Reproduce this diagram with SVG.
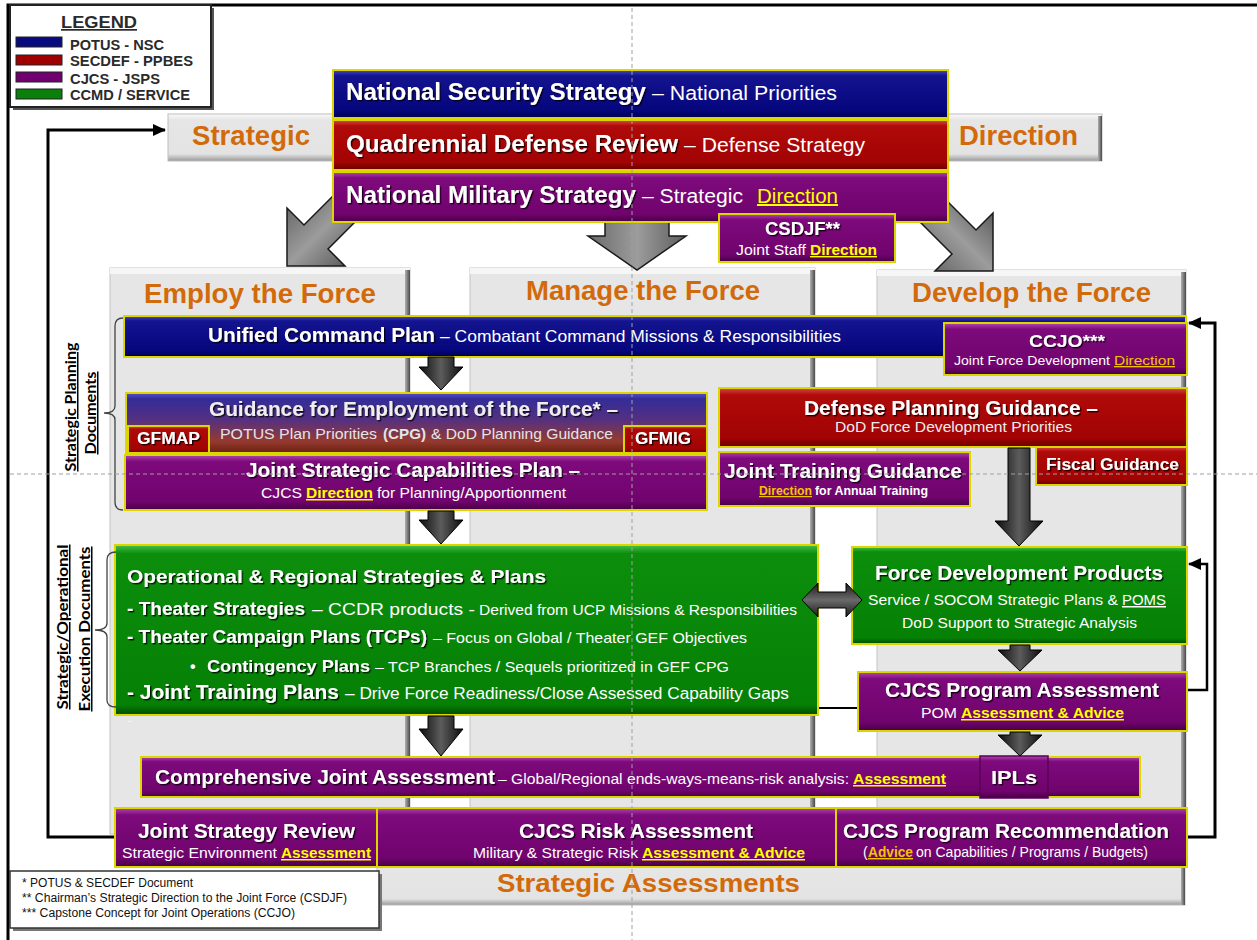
<svg xmlns="http://www.w3.org/2000/svg" width="1257" height="940" viewBox="0 0 1257 940">
<defs>
<linearGradient id="gB" x1="0" y1="0" x2="0" y2="1"><stop offset="0" stop-color="#4848c0"/><stop offset="0.12" stop-color="#141490"/><stop offset="0.85" stop-color="#05057c"/><stop offset="1" stop-color="#000050"/></linearGradient>
<linearGradient id="gR" x1="0" y1="0" x2="0" y2="1"><stop offset="0" stop-color="#d84848"/><stop offset="0.12" stop-color="#b00a0a"/><stop offset="0.85" stop-color="#a20303"/><stop offset="1" stop-color="#680000"/></linearGradient>
<linearGradient id="gP" x1="0" y1="0" x2="0" y2="1"><stop offset="0" stop-color="#b048b0"/><stop offset="0.12" stop-color="#7e0a7c"/><stop offset="0.85" stop-color="#70036d"/><stop offset="1" stop-color="#460044"/></linearGradient>
<linearGradient id="gG" x1="0" y1="0" x2="0" y2="1"><stop offset="0" stop-color="#48c048"/><stop offset="0.05" stop-color="#0c8e0c"/><stop offset="0.94" stop-color="#058005"/><stop offset="1" stop-color="#004a00"/></linearGradient>
<linearGradient id="gGEF" x1="0" y1="0" x2="0" y2="1"><stop offset="0" stop-color="#5a50c8"/><stop offset="0.1" stop-color="#342c98"/><stop offset="0.45" stop-color="#553080"/><stop offset="0.8" stop-color="#963a30"/><stop offset="1" stop-color="#6a2010"/></linearGradient>
<linearGradient id="gPl" x1="0" y1="0" x2="0" y2="1"><stop offset="0" stop-color="#fbfbfb"/><stop offset="0.12" stop-color="#e6e6e6"/><stop offset="0.85" stop-color="#e3e3e3"/><stop offset="1" stop-color="#9a9a9a"/></linearGradient>
<linearGradient id="gEdge" x1="0" y1="0" x2="1" y2="0"><stop offset="0" stop-color="#b0b0b0"/><stop offset="1" stop-color="#4a4a4a"/></linearGradient>
<linearGradient id="gD" x1="0" y1="0" x2="1" y2="0"><stop offset="0" stop-color="#0c0c0c"/><stop offset="0.5" stop-color="#5c5c5c"/><stop offset="1" stop-color="#0c0c0c"/></linearGradient>
<linearGradient id="gDv" x1="0" y1="0" x2="0" y2="1"><stop offset="0" stop-color="#1a1a1a"/><stop offset="0.5" stop-color="#6a6a6a"/><stop offset="1" stop-color="#1a1a1a"/></linearGradient>
<linearGradient id="gGy" x1="0" y1="0" x2="1" y2="0"><stop offset="0" stop-color="#6a6a6a"/><stop offset="0.5" stop-color="#9c9c9c"/><stop offset="1" stop-color="#5e5e5e"/></linearGradient>
<filter id="ts" x="-5%" y="-30%" width="110%" height="160%"><feDropShadow dx="1.4" dy="1.4" stdDeviation="0.5" flood-color="#000" flood-opacity="0.8"/></filter>
<marker id="ah" markerWidth="13" markerHeight="12" refX="12" refY="6" orient="auto" markerUnits="userSpaceOnUse"><path d="M0,0 L13,6 L0,12 z" fill="#000"/></marker>
<style>
.f{font-family:'Liberation Sans',Arial,Helvetica,sans-serif}
.w{fill:#fff}
.b{font-weight:bold}
.sh{filter:url(#ts)}
.yl{fill:#ffff00;text-decoration:underline}
.gd{fill:#f2c400;text-decoration:underline}
.or{fill:#d26a0a;font-weight:bold;font-family:'Liberation Sans',Arial,sans-serif}
.bx{stroke:#dcd600;stroke-width:2}
.pn{fill:#e6e6e6;stroke:#c4c4c4;stroke-width:1}
.pl{fill:url(#gPl);stroke:#bdbdbd;stroke-width:1}
.darr{fill:url(#gD);stroke:#000;stroke-width:1}
.garr{fill:url(#gGy);stroke:#1a1a1a;stroke-width:1.5}
.ln{fill:none;stroke:#000;stroke-width:3}
.guide{stroke:#a0a0a0;stroke-width:1;stroke-dasharray:4 3;fill:none}
.lg{fill:#2a2a2a;font-weight:bold;font-family:'Liberation Sans',Arial,sans-serif}
.vl{font-family:Lato,'Liberation Sans',sans-serif;font-weight:bold;text-decoration:underline;fill:#000}
.br{fill:none;stroke:#444;stroke-width:1.3}
</style>
</defs>

<rect x="0" y="0" width="1257" height="940" fill="#fff"/>
<path d="M8,940 V5 H1257" fill="none" stroke="#000" stroke-width="3"/>

<g id="banner-strategic">
<rect x="168" y="114" width="180" height="47" class="pl"/>
<text x="192" y="145" font-size="28" textLength="118" lengthAdjust="spacingAndGlyphs" class="or">Strategic</text>
</g>
<g id="banner-direction">
<rect x="940" y="114" width="162" height="47" class="pl"/>
<rect x="1098" y="116" width="4" height="45" fill="url(#gEdge)"/>
<text x="959" y="145" font-size="28" textLength="119" lengthAdjust="spacingAndGlyphs" class="or">Direction</text>
</g>

<g id="col-employ">
<rect x="110" y="268" width="300" height="566" class="pn"/>
<rect x="110" y="268" width="300" height="6" fill="#f6f6f6"/>
<rect x="405" y="270" width="5" height="564" fill="url(#gEdge)"/>
<text x="144" y="303" font-size="27" textLength="232" lengthAdjust="spacingAndGlyphs" class="or">Employ the Force</text>
</g>
<g id="col-manage">
<rect x="470" y="268" width="345" height="545" class="pn"/>
<rect x="470" y="268" width="345" height="6" fill="#f6f6f6"/>
<rect x="810" y="270" width="5" height="543" fill="url(#gEdge)"/>
<text x="526" y="300" font-size="27" textLength="234" lengthAdjust="spacingAndGlyphs" class="or">Manage the Force</text>
</g>
<g id="col-develop">
<rect x="877" y="270" width="309" height="567" class="pn"/>
<rect x="877" y="270" width="309" height="6" fill="#f6f6f6"/>
<rect x="1181" y="272" width="5" height="565" fill="url(#gEdge)"/>
<text x="912" y="302" font-size="27" textLength="239" lengthAdjust="spacingAndGlyphs" class="or">Develop the Force</text>
</g>
<g id="strategic-assessments">
<rect x="377" y="864" width="808" height="41" class="pl"/>
<rect x="1181" y="866" width="4" height="39" fill="url(#gEdge)"/>
<text x="497" y="892" font-size="26" textLength="303" lengthAdjust="spacingAndGlyphs" class="or">Strategic Assessments</text>
</g>

<g id="connectors-back">
<polygon class="garr" transform="translate(287,266) rotate(45)" points="-17,-118 17,-118 17,-41 41,-41 0,0 -41,-41 -17,-41"/>
<polygon class="garr" transform="translate(993,271) rotate(-45)" points="-17,-118 17,-118 17,-41 41,-41 0,0 -41,-41 -17,-41"/>
<polygon class="garr" points="605,215 669,215 669,236 686,236 637,270 588,236 605,236"/>
</g>

<g id="legend">
<rect x="13" y="8" width="201" height="102" fill="#555"/>
<rect x="10" y="5" width="201" height="102" fill="#fff" stroke="#222" stroke-width="2"/>
<text x="61" y="28" font-size="17" textLength="76" lengthAdjust="spacingAndGlyphs" class="lg" text-decoration="underline">LEGEND</text>
<rect x="16" y="37" width="46" height="10" fill="#0a0a80" stroke="#222" stroke-width="1"/>
<rect x="16" y="55" width="46" height="10" fill="#a00000" stroke="#222" stroke-width="1"/>
<rect x="16" y="72" width="46" height="10" fill="#700070" stroke="#222" stroke-width="1"/>
<rect x="16" y="89" width="46" height="10" fill="#0a800a" stroke="#222" stroke-width="1"/>
<text x="70" y="50" font-size="14" textLength="94" lengthAdjust="spacingAndGlyphs" class="lg">POTUS - NSC</text>
<text x="70" y="66" font-size="14" textLength="123" lengthAdjust="spacingAndGlyphs" class="lg">SECDEF - PPBES</text>
<text x="70" y="84" font-size="14" textLength="90" lengthAdjust="spacingAndGlyphs" class="lg">CJCS - JSPS</text>
<text x="70" y="100" font-size="14" textLength="120" lengthAdjust="spacingAndGlyphs" class="lg">CCMD / SERVICE</text>
</g>

<g id="nss">
<rect x="333" y="70" width="615" height="48" fill="url(#gB)" class="bx"/>
<text x="346" y="100" font-size="24" textLength="300" lengthAdjust="spacingAndGlyphs" class="f w b sh">National Security Strategy</text>
<text x="652" y="100" font-size="20" textLength="185" lengthAdjust="spacingAndGlyphs" class="f w">– National Priorities</text>
</g>
<g id="qdr">
<rect x="333" y="120" width="615" height="50" fill="url(#gR)" class="bx"/>
<text x="346" y="152" font-size="24" textLength="332" lengthAdjust="spacingAndGlyphs" class="f w b sh">Quadrennial Defense Review</text>
<text x="684" y="152" font-size="20" textLength="181" lengthAdjust="spacingAndGlyphs" class="f w">– Defense Strategy</text>
</g>
<g id="nms">
<rect x="333" y="172" width="615" height="50" fill="url(#gP)" class="bx"/>
<text x="346" y="203" font-size="24" textLength="290" lengthAdjust="spacingAndGlyphs" class="f w b sh">National Military Strategy</text>
<text x="642" y="203" font-size="20" textLength="101" lengthAdjust="spacingAndGlyphs" class="f w">– Strategic</text>
<text x="757" y="203" font-size="20" textLength="81" lengthAdjust="spacingAndGlyphs" class="f yl">Direction</text>
</g>
<g id="csdjf">
<rect x="719" y="214" width="176" height="48" fill="url(#gP)" class="bx"/>
<text x="765" y="235" font-size="18" textLength="75" lengthAdjust="spacingAndGlyphs" class="f w b sh">CSDJF**</text>
<text x="736" y="255" font-size="14" textLength="70" lengthAdjust="spacingAndGlyphs" class="f w">Joint Staff</text>
<text x="810" y="255" font-size="14" textLength="67" lengthAdjust="spacingAndGlyphs" class="f b yl">Direction</text>
</g>

<g id="ucp">
<rect x="124" y="316" width="1062" height="41" fill="url(#gB)" class="bx"/>
<text x="208" y="342" font-size="20.5" textLength="227" lengthAdjust="spacingAndGlyphs" class="f w b sh">Unified Command Plan</text>
<text x="440" y="342" font-size="17" textLength="401" lengthAdjust="spacingAndGlyphs" class="f w">– Combatant Command Missions &amp; Responsibilities</text>
</g>
<g id="ccjo">
<rect x="944" y="323" width="243" height="52" fill="url(#gP)" class="bx"/>
<text x="1029" y="347" font-size="17" textLength="76" lengthAdjust="spacingAndGlyphs" class="f w b sh">CCJO***</text>
<text x="954" y="365" font-size="13" textLength="156" lengthAdjust="spacingAndGlyphs" class="f w">Joint Force Development</text>
<text x="1114" y="365" font-size="13" textLength="61" lengthAdjust="spacingAndGlyphs" class="f gd">Direction</text>
</g>
<g id="gef">
<rect x="126" y="393" width="581" height="60" fill="url(#gGEF)" class="bx"/>
<text x="209" y="416" font-size="20" textLength="409" lengthAdjust="spacingAndGlyphs" class="f b sh" fill="#eee">Guidance for Employment of the Force* –</text>
<text x="220" y="439" font-size="15" textLength="157" lengthAdjust="spacingAndGlyphs" class="f" fill="#e4e4e4">POTUS  Plan Priorities</text>
<text x="383" y="439" font-size="15" textLength="43" lengthAdjust="spacingAndGlyphs" class="f b" fill="#e4e4e4">(CPG)</text>
<text x="431" y="439" font-size="15" textLength="182" lengthAdjust="spacingAndGlyphs" class="f" fill="#e4e4e4">&amp; DoD Planning Guidance</text>
</g>
<g id="gfmap">
<rect x="128" y="426" width="81" height="27" fill="url(#gR)" class="bx"/>
<text x="137" y="444" font-size="16" textLength="63" lengthAdjust="spacingAndGlyphs" class="f w b sh">GFMAP</text>
</g>
<g id="gfmig">
<rect x="624" y="426" width="83" height="27" fill="url(#gR)" class="bx"/>
<text x="635" y="444" font-size="16" textLength="56" lengthAdjust="spacingAndGlyphs" class="f w b sh">GFMIG</text>
</g>
<g id="jscp">
<rect x="125" y="455" width="582" height="55" fill="url(#gP)" class="bx"/>
<text x="246" y="477" font-size="20" textLength="334" lengthAdjust="spacingAndGlyphs" class="f w b sh">Joint Strategic Capabilities Plan –</text>
<text x="261" y="498" font-size="15" textLength="41" lengthAdjust="spacingAndGlyphs" class="f w">CJCS</text>
<text x="306" y="498" font-size="15" textLength="67" lengthAdjust="spacingAndGlyphs" class="f b yl">Direction</text>
<text x="377" y="498" font-size="15" textLength="189" lengthAdjust="spacingAndGlyphs" class="f w">for Planning/Apportionment</text>
</g>

<g id="dpg">
<rect x="719" y="388" width="468" height="59" fill="url(#gR)" class="bx"/>
<text x="804" y="415" font-size="20" textLength="294" lengthAdjust="spacingAndGlyphs" class="f w b sh">Defense Planning Guidance –</text>
<text x="835" y="432" font-size="15" textLength="237" lengthAdjust="spacingAndGlyphs" class="f" fill="#eee">DoD Force Development Priorities</text>
</g>
<g id="fiscal">
<rect x="1036" y="447" width="151" height="38" fill="url(#gR)" class="bx"/>
<text x="1046" y="470" font-size="16" textLength="133" lengthAdjust="spacingAndGlyphs" class="f w b sh">Fiscal Guidance</text>
</g>
<g id="jtg">
<rect x="719" y="452" width="251" height="54" fill="url(#gP)" class="bx"/>
<text x="724" y="478" font-size="20" textLength="238" lengthAdjust="spacingAndGlyphs" class="f w b sh">Joint Training Guidance</text>
<text x="759" y="495" font-size="12" textLength="53" lengthAdjust="spacingAndGlyphs" class="f b gd">Direction</text>
<text x="815" y="495" font-size="12" textLength="113" lengthAdjust="spacingAndGlyphs" class="f w b">for Annual Training</text>
</g>

<g id="orsp">
<rect x="115" y="545" width="703" height="170" fill="url(#gG)" class="bx"/>
<text x="127" y="583" font-size="19" textLength="419" lengthAdjust="spacingAndGlyphs" class="f w b sh">Operational &amp; Regional Strategies &amp; Plans</text>
<text x="127" y="615" font-size="18" textLength="178" lengthAdjust="spacingAndGlyphs" class="f w b sh">- Theater Strategies</text>
<text x="312" y="615" font-size="17" textLength="163" lengthAdjust="spacingAndGlyphs" class="f w">– CCDR products -</text>
<text x="479" y="615" font-size="14" textLength="318" lengthAdjust="spacingAndGlyphs" class="f w">Derived from UCP Missions &amp; Responsibilities</text>
<text x="127" y="643" font-size="18" textLength="300" lengthAdjust="spacingAndGlyphs" class="f w b sh">- Theater Campaign Plans (TCPs)</text>
<text x="433" y="643" font-size="15" textLength="314" lengthAdjust="spacingAndGlyphs" class="f w">– Focus on Global / Theater  GEF Objectives</text>
<text x="190" y="672" font-size="16" class="f w b">•</text>
<text x="207" y="672" font-size="17" textLength="163" lengthAdjust="spacingAndGlyphs" class="f w b sh">Contingency Plans</text>
<text x="375" y="672" font-size="15" textLength="354" lengthAdjust="spacingAndGlyphs" class="f w">– TCP Branches / Sequels  prioritized in GEF CPG</text>
<text x="127" y="699" font-size="20" textLength="212" lengthAdjust="spacingAndGlyphs" class="f w b sh">- Joint Training Plans</text>
<text x="345" y="699" font-size="16" textLength="444" lengthAdjust="spacingAndGlyphs" class="f w">– Drive Force Readiness/Close Assessed Capability Gaps</text>
<text x="128" y="724" font-size="10" class="f" fill="#fafafa">-</text>
</g>
<g id="fdp">
<rect x="852" y="547" width="335" height="97" fill="url(#gG)" class="bx"/>
<text x="875" y="580" font-size="20" textLength="288" lengthAdjust="spacingAndGlyphs" class="f w b sh">Force Development Products</text>
<text x="868" y="605" font-size="15" textLength="250" lengthAdjust="spacingAndGlyphs" class="f w">Service / SOCOM Strategic Plans &amp;</text>
<text x="1122" y="605" font-size="15" textLength="44" lengthAdjust="spacingAndGlyphs" class="f w" text-decoration="underline">POMS</text>
<text x="902" y="628" font-size="15" textLength="235" lengthAdjust="spacingAndGlyphs" class="f w">DoD Support to Strategic Analysis</text>
</g>
<g id="cjcs-pa">
<rect x="858" y="672" width="329" height="59" fill="url(#gP)" class="bx"/>
<text x="885" y="697" font-size="20" textLength="274" lengthAdjust="spacingAndGlyphs" class="f w b sh">CJCS Program Assessment</text>
<text x="921" y="718" font-size="15" textLength="36" lengthAdjust="spacingAndGlyphs" class="f w">POM</text>
<text x="961" y="718" font-size="15" textLength="163" lengthAdjust="spacingAndGlyphs" class="f b yl">Assessment &amp; Advice</text>
</g>

<g id="cja">
<rect x="141" y="757" width="999" height="40" fill="url(#gP)" class="bx"/>
<text x="155" y="784" font-size="21" textLength="340" lengthAdjust="spacingAndGlyphs" class="f w b sh">Comprehensive Joint Assessment</text>
<text x="498" y="784" font-size="15" textLength="351" lengthAdjust="spacingAndGlyphs" class="f w">– Global/Regional ends-ways-means-risk analysis:</text>
<text x="853" y="784" font-size="15" textLength="93" lengthAdjust="spacingAndGlyphs" class="f b yl">Assessment</text>
</g>
<g id="ipls">
<rect x="980" y="756" width="68" height="42" fill="url(#gP)" stroke="#5a005a" stroke-width="1.5"/>
<text x="1014" y="784" font-size="19" text-anchor="middle" textLength="46" lengthAdjust="spacingAndGlyphs" class="f w b sh">IPLs</text>
</g>
<g id="jsr">
<rect x="115" y="808" width="262" height="59" fill="url(#gP)" class="bx"/>
<text x="138" y="838" font-size="21" textLength="217" lengthAdjust="spacingAndGlyphs" class="f w b sh">Joint Strategy Review</text>
<text x="122" y="858" font-size="15" textLength="155" lengthAdjust="spacingAndGlyphs" class="f w">Strategic Environment</text>
<text x="281" y="858" font-size="15" textLength="90" lengthAdjust="spacingAndGlyphs" class="f b yl">Assessment</text>
</g>
<g id="cjcs-ra">
<rect x="377" y="808" width="459" height="59" fill="url(#gP)" class="bx"/>
<text x="519" y="838" font-size="21" textLength="234" lengthAdjust="spacingAndGlyphs" class="f w b sh">CJCS Risk Assessment</text>
<text x="473" y="858" font-size="15" textLength="165" lengthAdjust="spacingAndGlyphs" class="f w">Military &amp; Strategic Risk</text>
<text x="642" y="858" font-size="15" textLength="163" lengthAdjust="spacingAndGlyphs" class="f b yl">Assessment &amp; Advice</text>
</g>
<g id="cjcs-pr">
<rect x="836" y="808" width="351" height="59" fill="url(#gP)" class="bx"/>
<text x="843" y="838" font-size="21" textLength="326" lengthAdjust="spacingAndGlyphs" class="f w b sh">CJCS Program Recommendation</text>
<text x="863" y="857" font-size="14" class="f w">(</text>
<text x="868" y="857" font-size="14" textLength="45" lengthAdjust="spacingAndGlyphs" class="f b gd">Advice</text>
<text x="916" y="857" font-size="14" textLength="232" lengthAdjust="spacingAndGlyphs" class="f w">on Capabilities / Programs / Budgets)</text>
</g>

<g id="footnotes">
<rect x="13" y="874" width="369" height="57" fill="#777"/>
<rect x="10" y="871" width="369" height="57" fill="#fff" stroke="#333" stroke-width="1.5"/>
<text x="22" y="887" font-size="12" textLength="171" lengthAdjust="spacingAndGlyphs" class="f" fill="#111">* POTUS &amp; SECDEF Document</text>
<text x="22" y="902" font-size="12" textLength="325" lengthAdjust="spacingAndGlyphs" class="f" fill="#111">** Chairman’s Strategic Direction to the Joint Force (CSDJF)</text>
<text x="22" y="917" font-size="12" textLength="273" lengthAdjust="spacingAndGlyphs" class="f" fill="#111">*** Capstone Concept for Joint Operations (CCJO)</text>
</g>

<g id="side-labels">
<text transform="translate(76,407) rotate(-90)" text-anchor="middle" font-size="15" textLength="129" lengthAdjust="spacingAndGlyphs" class="vl">Strategic Planning</text>
<text transform="translate(96,413) rotate(-90)" text-anchor="middle" font-size="15" textLength="83" lengthAdjust="spacingAndGlyphs" class="vl">Documents</text>
<text transform="translate(68,627) rotate(-90)" text-anchor="middle" font-size="15" textLength="165" lengthAdjust="spacingAndGlyphs" class="vl">Strategic/Operational</text>
<text transform="translate(90,629) rotate(-90)" text-anchor="middle" font-size="15" textLength="165" lengthAdjust="spacingAndGlyphs" class="vl">Execution Documents</text>
</g>

<g id="connectors">
<polygon class="darr" points="428,357 454,357 454,367 463,367 441,390 419,367 428,367"/>
<polygon class="darr" points="428,511 454,511 454,520 463,520 441,544 419,520 428,520"/>
<polygon class="darr" points="428,716 454,716 454,729 463,729 441,756 419,729 428,729"/>
<polygon class="darr" points="1008,448 1030,448 1030,521 1043,521 1019,546 995,521 1008,521"/>
<polygon class="darr" points="1010,645 1030,645 1030,650 1042,650 1020,671 998,650 1010,650"/>
<polygon class="darr" points="1010,732 1030,732 1030,735 1042,735 1020,756 998,735 1010,735"/>
<polygon points="802,600 818,583 818,592 846,592 846,583 862,600 846,617 846,608 818,608 818,617" fill="url(#gDv)" stroke="#000" stroke-width="1"/>
<path d="M819,708 H857" fill="none" stroke="#000" stroke-width="2"/>
<path class="ln" d="M114,837 H48 V130 H165" marker-end="url(#ah)"/>
<path class="ln" d="M1188,837 H1215 V323 H1189" marker-end="url(#ah)"/>
<path d="M1188,690 H1207 V564 H1189" fill="none" stroke="#000" stroke-width="2.5" marker-end="url(#ah)"/>
<path class="br" d="M123,318 Q115,318 115,326 V406 Q115,413 104,413 Q115,413 115,420 V502 Q115,510 123,510"/>
<path class="br" d="M116,552 Q107,552 107,560 V623 Q107,630 95,630 Q107,630 107,637 V700 Q107,707 116,707"/>
</g>

<g id="guides">
<path class="guide" d="M632,8 V940"/>
<path class="guide" d="M10,474 H1257"/>
</g>
</svg>
